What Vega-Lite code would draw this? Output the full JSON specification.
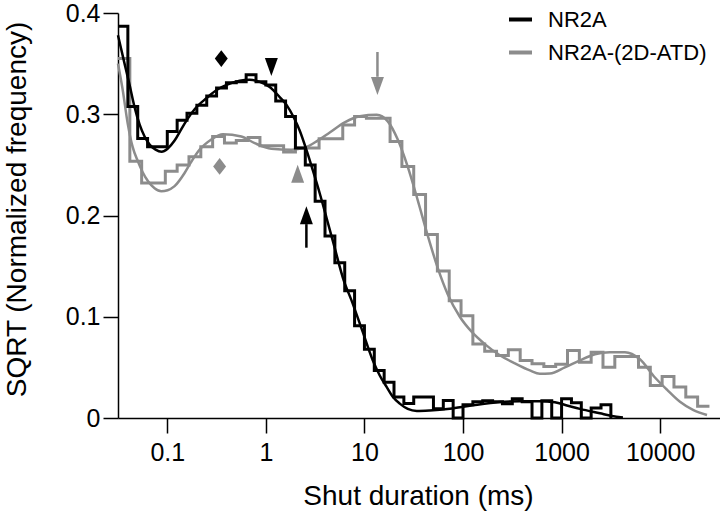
{
  "$schema": "https://vega.github.io/schema/vega-lite/v6.json",
  "width": 602,
  "height": 405,
  "autosize": {"type": "none"},
  "padding": {"left": 118, "top": 13, "right": 0, "bottom": 94},
  "background": "white",
  "config": {
    "view": {"stroke": null},
    "font": "Liberation Sans",
    "axis": {
      "grid": false,
      "domainColor": "#000000",
      "domainWidth": 1.5,
      "tickColor": "#000000",
      "tickWidth": 1.5,
      "tickSize": 15,
      "labelFont": "Liberation Sans",
      "labelFontSize": 25,
      "labelColor": "#000000",
      "labelFlush": false,
      "titleFont": "Liberation Sans",
      "titleFontSize": 28,
      "titleFontWeight": "normal",
      "titleColor": "#000000"
    }
  },
  "datasets": {
    "hist": [
      {"s":"NR2A","i":0,"t":0.03162,"v":0.387},
      {"s":"NR2A","i":1,"t":0.03981,"v":0.3076},
      {"s":"NR2A","i":2,"t":0.05012,"v":0.276},
      {"s":"NR2A","i":3,"t":0.0631,"v":0.268},
      {"s":"NR2A","i":4,"t":0.07943,"v":0.268},
      {"s":"NR2A","i":5,"t":0.1,"v":0.283},
      {"s":"NR2A","i":6,"t":0.1259,"v":0.294},
      {"s":"NR2A","i":7,"t":0.1585,"v":0.301},
      {"s":"NR2A","i":8,"t":0.1995,"v":0.309},
      {"s":"NR2A","i":9,"t":0.2512,"v":0.318},
      {"s":"NR2A","i":10,"t":0.3162,"v":0.326},
      {"s":"NR2A","i":11,"t":0.3981,"v":0.331},
      {"s":"NR2A","i":12,"t":0.5012,"v":0.332},
      {"s":"NR2A","i":13,"t":0.631,"v":0.339},
      {"s":"NR2A","i":14,"t":0.7943,"v":0.332},
      {"s":"NR2A","i":15,"t":1,"v":0.329},
      {"s":"NR2A","i":16,"t":1.259,"v":0.313},
      {"s":"NR2A","i":17,"t":1.585,"v":0.2977},
      {"s":"NR2A","i":18,"t":1.995,"v":0.2666},
      {"s":"NR2A","i":19,"t":2.512,"v":0.25},
      {"s":"NR2A","i":20,"t":3.162,"v":0.214},
      {"s":"NR2A","i":21,"t":3.981,"v":0.1797},
      {"s":"NR2A","i":22,"t":5.012,"v":0.1534},
      {"s":"NR2A","i":23,"t":6.31,"v":0.1256},
      {"s":"NR2A","i":24,"t":7.943,"v":0.0912},
      {"s":"NR2A","i":25,"t":10,"v":0.068},
      {"s":"NR2A","i":26,"t":12.59,"v":0.0469},
      {"s":"NR2A","i":27,"t":15.85,"v":0.0354},
      {"s":"NR2A","i":28,"t":19.95,"v":0.0207},
      {"s":"NR2A","i":29,"t":25.12,"v":0.0142},
      {"s":"NR2A","i":30,"t":31.62,"v":0.0207},
      {"s":"NR2A","i":31,"t":39.81,"v":0.0207},
      {"s":"NR2A","i":32,"t":50.12,"v":0.0092},
      {"s":"NR2A","i":33,"t":63.1,"v":0.0174},
      {"s":"NR2A","i":34,"t":79.43,"v":0},
      {"s":"NR2A","i":35,"t":100,"v":0.013},
      {"s":"NR2A","i":36,"t":125.9,"v":0.016},
      {"s":"NR2A","i":37,"t":158.5,"v":0.017},
      {"s":"NR2A","i":38,"t":199.5,"v":0.016},
      {"s":"NR2A","i":39,"t":251.2,"v":0.014},
      {"s":"NR2A","i":40,"t":316.2,"v":0.019},
      {"s":"NR2A","i":41,"t":398.1,"v":0.016},
      {"s":"NR2A","i":42,"t":501.2,"v":0},
      {"s":"NR2A","i":43,"t":631,"v":0.017},
      {"s":"NR2A","i":44,"t":794.3,"v":0},
      {"s":"NR2A","i":45,"t":1000,"v":0.019},
      {"s":"NR2A","i":46,"t":1259,"v":0.015},
      {"s":"NR2A","i":47,"t":1585,"v":0},
      {"s":"NR2A","i":48,"t":1995,"v":0.01},
      {"s":"NR2A","i":49,"t":2512,"v":0.013},
      {"s":"NR2A","i":50,"t":3162,"v":0.013},
      {"s":"NR2A","i":51,"t":3162,"v":0},
      {"s":"NR2A-(2D-ATD)","i":0,"t":0.03162,"v":0.355},
      {"s":"NR2A-(2D-ATD)","i":1,"t":0.04169,"v":0.2535},
      {"s":"NR2A-(2D-ATD)","i":2,"t":0.05495,"v":0.232},
      {"s":"NR2A-(2D-ATD)","i":3,"t":0.07244,"v":0.232},
      {"s":"NR2A-(2D-ATD)","i":4,"t":0.0955,"v":0.2436},
      {"s":"NR2A-(2D-ATD)","i":5,"t":0.1259,"v":0.25},
      {"s":"NR2A-(2D-ATD)","i":6,"t":0.166,"v":0.258},
      {"s":"NR2A-(2D-ATD)","i":7,"t":0.2188,"v":0.268},
      {"s":"NR2A-(2D-ATD)","i":8,"t":0.2884,"v":0.278},
      {"s":"NR2A-(2D-ATD)","i":9,"t":0.3802,"v":0.2715},
      {"s":"NR2A-(2D-ATD)","i":10,"t":0.5012,"v":0.274},
      {"s":"NR2A-(2D-ATD)","i":11,"t":0.6607,"v":0.277},
      {"s":"NR2A-(2D-ATD)","i":12,"t":0.871,"v":0.269},
      {"s":"NR2A-(2D-ATD)","i":13,"t":1.148,"v":0.269},
      {"s":"NR2A-(2D-ATD)","i":14,"t":1.514,"v":0.2626},
      {"s":"NR2A-(2D-ATD)","i":15,"t":1.995,"v":0.2666},
      {"s":"NR2A-(2D-ATD)","i":16,"t":2.63,"v":0.2666},
      {"s":"NR2A-(2D-ATD)","i":17,"t":3.467,"v":0.2758},
      {"s":"NR2A-(2D-ATD)","i":18,"t":4.571,"v":0.2758},
      {"s":"NR2A-(2D-ATD)","i":19,"t":6.026,"v":0.2895},
      {"s":"NR2A-(2D-ATD)","i":20,"t":7.943,"v":0.2977},
      {"s":"NR2A-(2D-ATD)","i":21,"t":10.47,"v":0.296},
      {"s":"NR2A-(2D-ATD)","i":22,"t":13.8,"v":0.296},
      {"s":"NR2A-(2D-ATD)","i":23,"t":18.2,"v":0.273},
      {"s":"NR2A-(2D-ATD)","i":24,"t":23.99,"v":0.2485},
      {"s":"NR2A-(2D-ATD)","i":25,"t":31.62,"v":0.2207},
      {"s":"NR2A-(2D-ATD)","i":26,"t":41.69,"v":0.1813},
      {"s":"NR2A-(2D-ATD)","i":27,"t":54.95,"v":0.1453},
      {"s":"NR2A-(2D-ATD)","i":28,"t":72.44,"v":0.1158},
      {"s":"NR2A-(2D-ATD)","i":29,"t":95.5,"v":0.101},
      {"s":"NR2A-(2D-ATD)","i":30,"t":125.9,"v":0.0732},
      {"s":"NR2A-(2D-ATD)","i":31,"t":166,"v":0.066},
      {"s":"NR2A-(2D-ATD)","i":32,"t":218.8,"v":0.0617},
      {"s":"NR2A-(2D-ATD)","i":33,"t":288.4,"v":0.0675},
      {"s":"NR2A-(2D-ATD)","i":34,"t":380.2,"v":0.0567},
      {"s":"NR2A-(2D-ATD)","i":35,"t":501.2,"v":0.0535},
      {"s":"NR2A-(2D-ATD)","i":36,"t":660.7,"v":0.0509},
      {"s":"NR2A-(2D-ATD)","i":37,"t":871,"v":0.053},
      {"s":"NR2A-(2D-ATD)","i":38,"t":1148,"v":0.0666},
      {"s":"NR2A-(2D-ATD)","i":39,"t":1514,"v":0.055},
      {"s":"NR2A-(2D-ATD)","i":40,"t":1995,"v":0.0649},
      {"s":"NR2A-(2D-ATD)","i":41,"t":2630,"v":0.0502},
      {"s":"NR2A-(2D-ATD)","i":42,"t":3467,"v":0.0607},
      {"s":"NR2A-(2D-ATD)","i":43,"t":4571,"v":0.0607},
      {"s":"NR2A-(2D-ATD)","i":44,"t":6026,"v":0.0502},
      {"s":"NR2A-(2D-ATD)","i":45,"t":7943,"v":0.0322},
      {"s":"NR2A-(2D-ATD)","i":46,"t":10471,"v":0.041},
      {"s":"NR2A-(2D-ATD)","i":47,"t":13804,"v":0.0305},
      {"s":"NR2A-(2D-ATD)","i":48,"t":18197,"v":0.0207},
      {"s":"NR2A-(2D-ATD)","i":49,"t":23988,"v":0.0115},
      {"s":"NR2A-(2D-ATD)","i":50,"t":31623,"v":0.0115}
    ],
    "fit": [
      {"s":"NR2A","t":0.0316,"v":0.378},
      {"s":"NR2A","t":0.03685,"v":0.35},
      {"s":"NR2A","t":0.04143,"v":0.329},
      {"s":"NR2A","t":0.04656,"v":0.307},
      {"s":"NR2A","t":0.05234,"v":0.29},
      {"s":"NR2A","t":0.05883,"v":0.278},
      {"s":"NR2A","t":0.06612,"v":0.27},
      {"s":"NR2A","t":0.07606,"v":0.265},
      {"s":"NR2A","t":0.08753,"v":0.263},
      {"s":"NR2A","t":0.1007,"v":0.266},
      {"s":"NR2A","t":0.1186,"v":0.274},
      {"s":"NR2A","t":0.1365,"v":0.284},
      {"s":"NR2A","t":0.157,"v":0.294},
      {"s":"NR2A","t":0.1893,"v":0.305},
      {"s":"NR2A","t":0.2506,"v":0.316},
      {"s":"NR2A","t":0.3166,"v":0.324},
      {"s":"NR2A","t":0.3999,"v":0.329},
      {"s":"NR2A","t":0.542,"v":0.333},
      {"s":"NR2A","t":0.6846,"v":0.334},
      {"s":"NR2A","t":0.865,"v":0.332},
      {"s":"NR2A","t":1.093,"v":0.327},
      {"s":"NR2A","t":1.381,"v":0.317},
      {"s":"NR2A","t":1.626,"v":0.309},
      {"s":"NR2A","t":1.915,"v":0.297},
      {"s":"NR2A","t":2.203,"v":0.284},
      {"s":"NR2A","t":2.595,"v":0.264},
      {"s":"NR2A","t":2.987,"v":0.245},
      {"s":"NR2A","t":3.517,"v":0.222},
      {"s":"NR2A","t":4.143,"v":0.197},
      {"s":"NR2A","t":4.994,"v":0.168},
      {"s":"NR2A","t":6.022,"v":0.139},
      {"s":"NR2A","t":7.606,"v":0.113},
      {"s":"NR2A","t":9.609,"v":0.085},
      {"s":"NR2A","t":12.14,"v":0.057},
      {"s":"NR2A","t":14.3,"v":0.042},
      {"s":"NR2A","t":16.84,"v":0.0305},
      {"s":"NR2A","t":19.38,"v":0.021},
      {"s":"NR2A","t":22.83,"v":0.0142},
      {"s":"NR2A","t":27.52,"v":0.009},
      {"s":"NR2A","t":33.96,"v":0.007},
      {"s":"NR2A","t":46.02,"v":0.0075},
      {"s":"NR2A","t":73.45,"v":0.0092},
      {"s":"NR2A","t":117.2,"v":0.012},
      {"s":"NR2A","t":236.4,"v":0.0157},
      {"s":"NR2A","t":377.3,"v":0.0165},
      {"s":"NR2A","t":602.1,"v":0.0165},
      {"s":"NR2A","t":855,"v":0.0155},
      {"s":"NR2A","t":1132,"v":0.0124},
      {"s":"NR2A","t":1534,"v":0.009},
      {"s":"NR2A","t":2448,"v":0.0046},
      {"s":"NR2A","t":3241,"v":0.002},
      {"s":"NR2A","t":4192,"v":0.0006},
      {"s":"NR2A-(2D-ATD)","t":0.0316,"v":0.35},
      {"s":"NR2A-(2D-ATD)","t":0.03517,"v":0.325},
      {"s":"NR2A-(2D-ATD)","t":0.0398,"v":0.29},
      {"s":"NR2A-(2D-ATD)","t":0.04443,"v":0.268},
      {"s":"NR2A-(2D-ATD)","t":0.05029,"v":0.2535},
      {"s":"NR2A-(2D-ATD)","t":0.05613,"v":0.243},
      {"s":"NR2A-(2D-ATD)","t":0.06353,"v":0.234},
      {"s":"NR2A-(2D-ATD)","t":0.0743,"v":0.227},
      {"s":"NR2A-(2D-ATD)","t":0.0869,"v":0.224},
      {"s":"NR2A-(2D-ATD)","t":0.1007,"v":0.225},
      {"s":"NR2A-(2D-ATD)","t":0.1186,"v":0.229},
      {"s":"NR2A-(2D-ATD)","t":0.1498,"v":0.242},
      {"s":"NR2A-(2D-ATD)","t":0.1724,"v":0.252},
      {"s":"NR2A-(2D-ATD)","t":0.2045,"v":0.263},
      {"s":"NR2A-(2D-ATD)","t":0.2797,"v":0.275},
      {"s":"NR2A-(2D-ATD)","t":0.3668,"v":0.2803},
      {"s":"NR2A-(2D-ATD)","t":0.5641,"v":0.278},
      {"s":"NR2A-(2D-ATD)","t":0.7696,"v":0.2715},
      {"s":"NR2A-(2D-ATD)","t":1.137,"v":0.266},
      {"s":"NR2A-(2D-ATD)","t":1.815,"v":0.265},
      {"s":"NR2A-(2D-ATD)","t":2.477,"v":0.267},
      {"s":"NR2A-(2D-ATD)","t":3.357,"v":0.274},
      {"s":"NR2A-(2D-ATD)","t":4.444,"v":0.282},
      {"s":"NR2A-(2D-ATD)","t":6.31,"v":0.292},
      {"s":"NR2A-(2D-ATD)","t":8.96,"v":0.298},
      {"s":"NR2A-(2D-ATD)","t":13.33,"v":0.2994},
      {"s":"NR2A-(2D-ATD)","t":17.24,"v":0.293},
      {"s":"NR2A-(2D-ATD)","t":21.78,"v":0.275},
      {"s":"NR2A-(2D-ATD)","t":27.52,"v":0.248},
      {"s":"NR2A-(2D-ATD)","t":34.76,"v":0.215},
      {"s":"NR2A-(2D-ATD)","t":43.92,"v":0.18},
      {"s":"NR2A-(2D-ATD)","t":55.49,"v":0.148},
      {"s":"NR2A-(2D-ATD)","t":70.1,"v":0.122},
      {"s":"NR2A-(2D-ATD)","t":92.79,"v":0.1},
      {"s":"NR2A-(2D-ATD)","t":122.8,"v":0.085},
      {"s":"NR2A-(2D-ATD)","t":166.4,"v":0.073},
      {"s":"NR2A-(2D-ATD)","t":236.4,"v":0.062},
      {"s":"NR2A-(2D-ATD)","t":335.7,"v":0.054},
      {"s":"NR2A-(2D-ATD)","t":476.8,"v":0.047},
      {"s":"NR2A-(2D-ATD)","t":602.1,"v":0.0437},
      {"s":"NR2A-(2D-ATD)","t":760.6,"v":0.044},
      {"s":"NR2A-(2D-ATD)","t":1080,"v":0.05},
      {"s":"NR2A-(2D-ATD)","t":1534,"v":0.057},
      {"s":"NR2A-(2D-ATD)","t":2178,"v":0.063},
      {"s":"NR2A-(2D-ATD)","t":3093,"v":0.065},
      {"s":"NR2A-(2D-ATD)","t":4391,"v":0.065},
      {"s":"NR2A-(2D-ATD)","t":6236,"v":0.058},
      {"s":"NR2A-(2D-ATD)","t":8856,"v":0.04},
      {"s":"NR2A-(2D-ATD)","t":11722,"v":0.028},
      {"s":"NR2A-(2D-ATD)","t":15885,"v":0.016},
      {"s":"NR2A-(2D-ATD)","t":21528,"v":0.008},
      {"s":"NR2A-(2D-ATD)","t":29862,"v":0.003}
    ],
    "marks": [
      {"s":"NR2A","m":"diamond","t":0.353,"v":0.355},
      {"s":"NR2A","m":"down","t":1.137,"v":0.3466},
      {"s":"NR2A-(2D-ATD)","m":"diamond","t":0.3396,"v":0.2485},
      {"s":"NR2A-(2D-ATD)","m":"up","t":2.102,"v":0.2412},
      {"s":"NR2A","m":"up","t":2.577,"v":0.2002},
      {"s":"NR2A-(2D-ATD)","m":"down","t":13.55,"v":0.328}
    ],
    "arrows": [
      {"s":"NR2A","t":2.577,"v":0.1915,"v2":0.1682},
      {"s":"NR2A-(2D-ATD)","t":13.55,"v":0.3615,"v2":0.337}
    ]
  },
  "encoding": {
    "x": {
      "field": "t",
      "type": "quantitative",
      "scale": {"type": "log", "domain": [0.03162, 40460], "nice": false},
      "axis": {
        "values": [0.1, 1, 10, 100, 1000, 10000],
        "format": "~g",
        "title": "Shut duration (ms)",
        "labelPadding": 7,
        "titleY": 86,
        "titleX": 300,
        "titleBaseline": "alphabetic"
      }
    },
    "y": {
      "field": "v",
      "type": "quantitative",
      "scale": {"domain": [0, 0.4], "nice": false},
      "axis": {
        "values": [0, 0.1, 0.2, 0.3, 0.4],
        "format": "~g",
        "title": "SQRT (Normalized frequency)",
        "labelPadding": 3,
        "titleX": -93,
        "titleY": 196,
        "titleAngle": -90,
        "titleBaseline": "alphabetic"
      }
    },
    "color": {
      "field": "s",
      "type": "nominal",
      "scale": {"domain": ["NR2A", "NR2A-(2D-ATD)"], "range": ["#000000", "#8c8c8c"]},
      "legend": {
        "title": null,
        "orient": "none",
        "legendX": 389,
        "legendY": -7,
        "symbolType": "stroke",
        "symbolSize": 529,
        "symbolStrokeWidth": 4,
        "labelFont": "Liberation Sans",
        "labelFontSize": 22,
        "labelColor": "#000000",
        "rowPadding": 8,
        "labelOffset": 14,
        "padding": 0
      }
    }
  },
  "layer": [
    {
      "data": {"name": "hist"},
      "transform": [{"filter": "datum.s === 'NR2A-(2D-ATD)'"}],
      "mark": {"type": "line", "interpolate": "step-after", "strokeWidth": 3},
      "encoding": {"order": {"field": "i", "type": "quantitative"}}
    },
    {
      "data": {"name": "fit"},
      "transform": [{"filter": "datum.s === 'NR2A-(2D-ATD)'"}],
      "mark": {"type": "line", "interpolate": "monotone", "strokeWidth": 2.5}
    },
    {
      "data": {"name": "hist"},
      "transform": [{"filter": "datum.s === 'NR2A'"}],
      "mark": {"type": "line", "interpolate": "step-after", "strokeWidth": 3},
      "encoding": {"order": {"field": "i", "type": "quantitative"}}
    },
    {
      "data": {"name": "fit"},
      "transform": [{"filter": "datum.s === 'NR2A'"}],
      "mark": {"type": "line", "interpolate": "monotone", "strokeWidth": 2.5}
    },
    {
      "data": {"name": "arrows"},
      "mark": {"type": "rule", "strokeWidth": 2.5},
      "encoding": {"y2": {"field": "v2"}}
    },
    {
      "data": {"name": "marks"},
      "mark": {"type": "point", "filled": true, "size": 324, "opacity": 1, "strokeWidth": 0},
      "encoding": {
        "shape": {
          "field": "m",
          "type": "nominal",
          "scale": {
            "domain": ["diamond", "down", "up"],
            "range": ["M0,-0.93L0.72,0L0,0.93L-0.72,0Z", "M-0.72,-1L0.72,-1L0,1Z", "M0,-1L0.72,1L-0.72,1Z"]
          },
          "legend": null
        }
      }
    }
  ]
}
